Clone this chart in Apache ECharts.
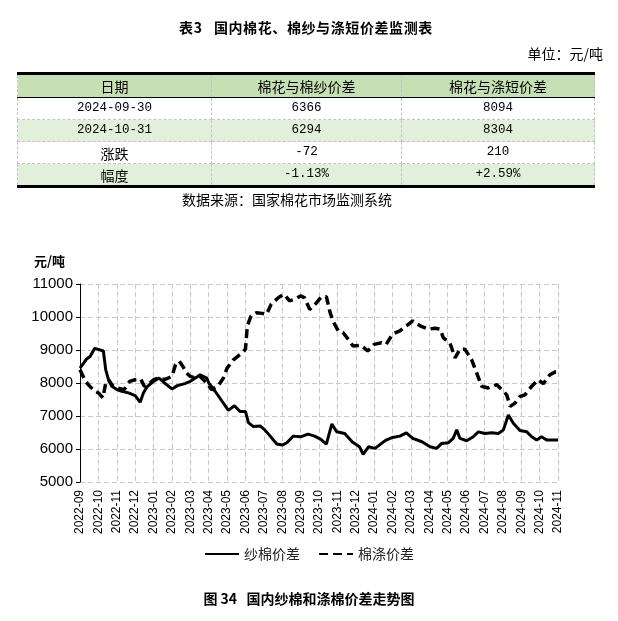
<!DOCTYPE html>
<html>
<head>
<meta charset="utf-8">
<script src="https://cdn.jsdelivr.net/npm/echarts@6/dist/echarts.min.js"></script>
<style>
  html, body { margin:0; padding:0; background:#fff; width:618px; height:621px; overflow:hidden; }
  #chart { position:absolute; left:0; top:0; width:618px; height:621px; }
  .abs { position:absolute; z-index:2; white-space:nowrap; color:#000; }
  #title { left:0; width:612px; top:17px; text-align:center; font:bold 14px "Noto Sans CJK SC"; letter-spacing:0.6px; }
  #unit { right:15px; top:43px; font:14px "Noto Sans CJK SC"; }
  #src { left:0; width:574px; top:189px; text-align:center; font:14px "Noto Sans CJK SC"; }
  #tbl { position:absolute; z-index:2; left:17px; top:72px; width:577px; border-collapse:collapse;
         border-top:3px solid #000; border-bottom:3px solid #000; table-layout:fixed; }
  #tbl td { height:21px; padding:0; text-align:center; vertical-align:middle;
            border-left:1px dashed #c4c4c4; border-right:1px dashed #c4c4c4; border-bottom:1px dashed #c4c4c4;
            font:12.5px "Liberation Mono", monospace; color:#000; line-height:21px; }
  #tbl td.cn { font:14px "Noto Sans CJK SC"; }
  #tbl tr.hd td { background:#c6e0b4; height:22px; border-bottom:1px solid #000; }
  #tbl tr.alt td { background:#e2efda; }
</style>
</head>
<body>
<div id="chart"></div>
<div class="abs" id="title">表3&nbsp;&nbsp;&nbsp;国内棉花、棉纱与涤短价差监测表</div>
<div class="abs" id="unit">单位：元/吨</div>
<table id="tbl"></table>
<div class="abs" id="src">数据来源：国家棉花市场监测系统</div>
<script>
// ---- table data ----
var tableHeader = ['日期', '棉花与棉纱价差', '棉花与涤短价差'];
var tableRowLabels = ['2024-09-30', '2024-10-31', '涨跌', '幅度'];
var tableYarnSpread = ['6366', '6294', '-72', '-1.13%'];
var tablePolySpread = ['8094', '8304', '210', '+2.59%'];

// ---- chart data ----
var monthLabels = ['2022-09','2022-10','2022-11','2022-12','2023-01','2023-02','2023-03','2023-04','2023-05',
  '2023-06','2023-07','2023-08','2023-09','2023-10','2023-11','2023-12','2024-01','2024-02','2024-03',
  '2024-04','2024-05','2024-06','2024-07','2024-08','2024-09','2024-10','2024-11'];
var yTicks = [5000, 11000, 1000];
// [month offset from 2022-09, value]
var yarnCottonSpread = [[0,8450],[0.2,8600],[0.36,8730],[0.55,8800],[0.64,8860],[0.8,9050],[1,9020],[1.27,8970],
  [1.4,8400],[1.55,8100],[1.73,7900],[2,7800],[2.27,7750],[2.64,7700],[3,7620],[3.27,7420],[3.45,7700],[3.64,7880],
  [4,8050],[4.3,8150],[4.6,8000],[5,7820],[5.3,7920],[5.7,7980],[6,8050],[6.4,8200],[6.53,8250],[6.9,8150],[7,8000],
  [7.35,7750],[7.7,7470],[8.07,7170],[8.4,7310],[8.7,7140],[9,7140],[9.16,6800],[9.43,6680],[9.8,6700],[10.05,6580],
  [10.3,6420],[10.7,6150],[11,6120],[11.25,6190],[11.6,6390],[12,6370],[12.4,6450],[12.76,6390],[13.1,6290],
  [13.4,6150],[13.7,6760],[13.96,6520],[14.4,6470],[14.8,6220],[15.2,6070],[15.4,5840],[15.7,6070],[16.05,6020],
  [16.4,6170],[16.65,6270],[17,6350],[17.4,6390],[17.75,6490],[18.1,6320],[18.6,6220],[19.04,6070],[19.4,6020],
  [19.67,6170],[20.04,6190],[20.3,6320],[20.49,6580],[20.67,6320],[21.03,6250],[21.39,6370],[21.67,6520],
  [22.03,6470],[22.39,6490],[22.76,6470],[23.03,6580],[23.3,7030],[23.57,6780],[23.93,6560],[24.3,6520],
  [24.57,6370],[24.84,6270],[25.1,6370],[25.4,6270],[25.83,6270],[26,6270]];
var cottonPolySpread = [[0,8400],[0.3,8050],[0.5,7920],[0.8,7750],[1,7700],[1.25,7550],[1.4,8000],[1.55,8100],
  [1.8,7900],[2,7850],[2.4,7800],[2.7,8050],[3,8100],[3.3,8120],[3.5,7900],[3.7,7950],[4,8100],[4.3,8150],[4.6,8100],
  [5,8200],[5.2,8560],[5.4,8660],[5.6,8500],[5.8,8300],[6,8200],[6.3,8150],[6.53,8200],[6.9,8000],[7.15,7800],
  [7.5,7900],[7.8,8150],[8,8450],[8.35,8700],[8.7,8860],[9,9020],[9.1,9730],[9.3,10030],[9.6,10130],[9.9,10110],
  [10.15,10080],[10.4,10390],[10.8,10590],[11.1,10690],[11.4,10490],[11.7,10540],[12,10640],[12.2,10590],
  [12.5,10230],[12.75,10360],[13.1,10590],[13.4,10620],[13.6,10140],[13.8,9830],[14.05,9580],[14.3,9530],
  [14.6,9320],[14.85,9120],[15.3,9140],[15.65,8970],[16,9170],[16.4,9220],[16.65,9170],[17,9480],[17.4,9580],
  [17.75,9730],[18.1,9880],[18.5,9730],[18.95,9630],[19.3,9660],[19.6,9630],[19.76,9370],[20.12,9220],[20.4,8760],
  [20.67,9020],[20.94,9020],[21.3,8710],[21.58,8300],[21.85,7900],[22.2,7850],[22.67,7950],[22.94,7800],
  [23.21,7640],[23.4,7290],[23.66,7390],[23.93,7590],[24.2,7640],[24.57,7900],[24.93,8100],[25.2,7980],
  [25.56,8250],[25.83,8330],[26,8330]];
var seriesNames = ['纱棉价差', '棉涤价差'];

// ---- build table ----
(function () {
  var t = document.getElementById('tbl');
  var html = '<colgroup><col style="width:194px"><col style="width:190px"><col style="width:193px"></colgroup>';
  html += '<tr class="hd">' + tableHeader.map(function (h) { return '<td class="cn">' + h + '</td>'; }).join('') + '</tr>';
  for (var i = 0; i < tableRowLabels.length; i++) {
    var lab = tableRowLabels[i];
    var isCn = /[\u4e00-\u9fa5]/.test(lab);
    html += '<tr' + (i % 2 === 1 ? ' class="alt"' : '') + '>' +
      '<td' + (isCn ? ' class="cn"' : '') + '>' + lab + '</td>' +
      '<td>' + tableYarnSpread[i] + '</td><td>' + tablePolySpread[i] + '</td></tr>';
  }
  t.innerHTML = html;
})();

// ---- chart ----
var chart = echarts.init(document.getElementById('chart'));
var gridDash = { color: '#c8c8c8', width: 1, type: [5, 3] };
chart.setOption({
  animation: false,
  grid: { left: 80, top: 284, right: 60, bottom: 139, containLabel: false },
  graphic: [
    { type: 'text', left: 34, top: 255, style: { text: '元/吨', font: 'bold 13px "Noto Sans CJK SC"', fill: '#000' } },
    { type: 'text', left: 'center', top: 592, style: { text: '图 34   国内纱棉和涤棉价差走势图', font: 'bold 14px "Noto Sans CJK SC"', fill: '#000' } }
  ],
  legend: {
    bottom: 55, left: 'center', itemWidth: 34, itemHeight: 12, itemGap: 18,
    itemStyle: { color: 'rgba(0,0,0,0)', borderWidth: 0, opacity: 0 },
    textStyle: { fontFamily: 'Noto Sans CJK SC', fontSize: 14, color: '#222' },
    data: seriesNames
  },
  xAxis: {
    type: 'value', min: 0, max: monthLabels.length - 1, interval: 1,
    axisLine: { show: false }, axisTick: { show: false },
    splitLine: { show: true, lineStyle: gridDash },
    axisLabel: {
      rotate: 90, fontSize: 12, fontFamily: 'Liberation Sans', color: '#000', margin: 8,
      formatter: function (v) { return monthLabels[Math.round(v)] || ''; }
    }
  },
  yAxis: {
    type: 'value', min: yTicks[0], max: yTicks[1], interval: yTicks[2],
    axisLine: { show: true, lineStyle: { color: '#000', width: 1 } },
    axisTick: { show: true, length: 4, lineStyle: { color: '#000' } },
    splitLine: { show: true, lineStyle: gridDash },
    axisLabel: { fontSize: 15, fontFamily: 'Liberation Sans', color: '#000', margin: 7,
      formatter: function (v) { return String(v); } }
  },
  series: [
    { name: seriesNames[0], type: 'line', data: yarnCottonSpread, showSymbol: false, symbol: 'none',
      lineStyle: { color: '#000', width: 3 }, itemStyle: { color: '#000' } },
    { name: seriesNames[1], type: 'line', data: cottonPolySpread, showSymbol: false, symbol: 'none',
      lineStyle: { color: '#000', width: 3.5, type: [9, 5] }, itemStyle: { color: '#000' } }
  ]
});
</script>
</body>
</html>
